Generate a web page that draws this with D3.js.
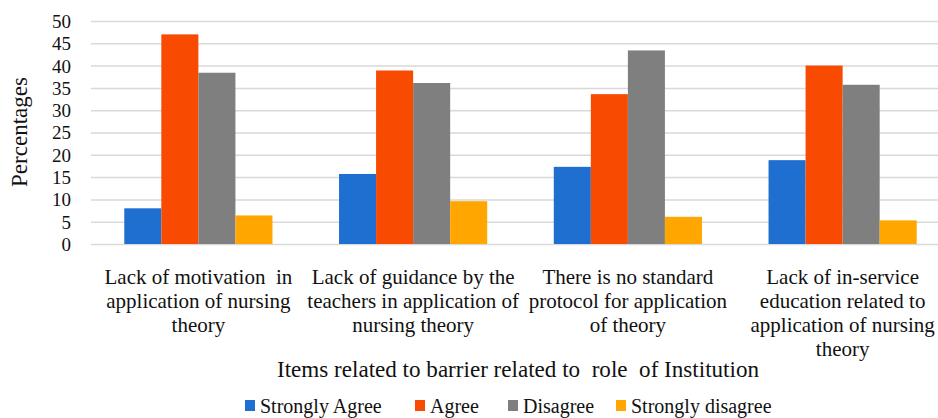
<!DOCTYPE html>
<html lang="en">
<head>
    <meta charset="UTF-8">
    <title>Barriers related to role of Institution</title>
    <script src="https://d3js.org/d3.v7.min.js"></script>
    <style>
        body { margin: 0; background: #fff; }
        svg text { white-space: pre; }
    </style>
</head>
<body>
    <div id="chart"></div>

    <script>
        // Data
        const categories = [
            ["Lack of motivation  in", "application of nursing", "theory"],
            ["Lack of guidance by the", "teachers in application of", "nursing theory"],
            ["There is no standard", "protocol for application", "of theory"],
            ["Lack of in-service", "education related to", "application of nursing", "theory"]
        ];
        const seriesNames = ["Strongly Agree", "Agree", "Disagree", "Strongly disagree"];
        const stronglyAgree = [8.0, 15.7, 17.3, 18.8];
        const agree = [47.0, 38.9, 33.6, 40.0];
        const disagree = [38.4, 36.1, 43.4, 35.7];
        const stronglyDisagree = [6.4, 9.6, 6.1, 5.3];
        const yTicks = [0, 5, 10, 15, 20, 25, 30, 35, 40, 45, 50];
        const colors = ["#1f6fd0", "#f84a00", "#7f7f7f", "#ffa600"];

        const serif = "'Liberation Serif', 'Times New Roman', Times, serif";

        const allSeries = [stronglyAgree, agree, disagree, stronglyDisagree];
        const rows = categories.map((c, i) => ({
            key: i,
            values: allSeries.map((s, j) => ({ series: j, value: s[i] }))
        }));

        const svgWidth = 938, svgHeight = 418;
        const plot = { left: 91, right: 950, top: 21, bottom: 244 };

        const svg = d3.select("#chart")
            .append("svg")
            .attr("width", svgWidth)
            .attr("height", svgHeight)
            .style("font-family", serif);

        // Scales
        const x0 = d3.scaleBand()
            .domain(rows.map(d => d.key))
            .range([plot.left, plot.right])
            .paddingInner(0.31)
            .paddingOuter(0.155);

        const x1 = d3.scaleBand()
            .domain(seriesNames.map((d, i) => i))
            .range([0, x0.bandwidth()])
            .padding(0);

        const y = d3.scaleLinear()
            .domain([0, 50])
            .range([plot.bottom, plot.top]);

        // Y axis with gridlines
        const yAxis = svg.append("g")
            .attr("transform", `translate(${plot.left},0)`)
            .call(d3.axisLeft(y).tickValues(yTicks).tickSize(-(plot.right - plot.left)).tickPadding(20))
            .attr("font-family", serif);
        yAxis.select(".domain").remove();
        yAxis.selectAll(".tick line").attr("stroke", "#d9d9d9").attr("stroke-width", 1.5);
        yAxis.selectAll(".tick text")
            .style("font-family", serif)
            .style("font-size", "19px")
            .attr("fill", "#111")
            .attr("dy", "0.34em");

        // Bars
        svg.append("g")
            .selectAll("g")
            .data(rows)
            .join("g")
            .attr("transform", d => `translate(${x0(d.key)},0)`)
            .selectAll("rect")
            .data(d => d.values)
            .join("rect")
            .attr("x", d => x1(d.series))
            .attr("y", d => y(d.value))
            .attr("width", x1.bandwidth())
            .attr("height", d => y(0) - y(d.value))
            .attr("fill", d => colors[d.series]);

        // X axis with wrapped category labels
        const xAxis = svg.append("g")
            .attr("transform", `translate(0,${plot.bottom})`)
            .call(d3.axisBottom(x0).tickSize(0).tickFormat(""))
            .attr("font-family", serif);
        xAxis.select(".domain").remove();
        xAxis.selectAll(".tick").each(function (k) {
            const t = d3.select(this).append("text")
                .attr("text-anchor", "middle")
                .attr("fill", "#111")
                .style("font-family", serif)
                .style("font-size", "21px");
            categories[k].forEach((line, i) => {
                t.append("tspan")
                    .attr("x", 0)
                    .attr("y", 40 + i * 24)
                    .text(line);
            });
        });

        // Axis titles
        svg.append("text")
            .attr("x", 518)
            .attr("y", 377)
            .attr("text-anchor", "middle")
            .attr("fill", "#111")
            .attr("textLength", 482)
            .attr("lengthAdjust", "spacingAndGlyphs")
            .style("font-family", serif)
            .style("font-size", "23px")
            .text("Items related to barrier related to  role  of Institution");

        svg.append("text")
            .attr("transform", "translate(27,132) rotate(-90)")
            .attr("text-anchor", "middle")
            .attr("fill", "#111")
            .style("font-family", serif)
            .style("font-size", "23px")
            .text("Percentages");

        // Legend
        const legendX = [245, 415, 508, 616];
        const legend = svg.append("g")
            .selectAll("g")
            .data(seriesNames)
            .join("g")
            .attr("transform", (d, i) => `translate(${legendX[i]},400)`);
        legend.append("rect")
            .attr("width", 10)
            .attr("height", 11)
            .attr("fill", (d, i) => colors[i]);
        legend.append("text")
            .attr("x", 15)
            .attr("y", 13)
            .attr("fill", "#111")
            .style("font-family", serif)
            .style("font-size", "20px")
            .text(d => d);
    </script>
</body>
</html>
